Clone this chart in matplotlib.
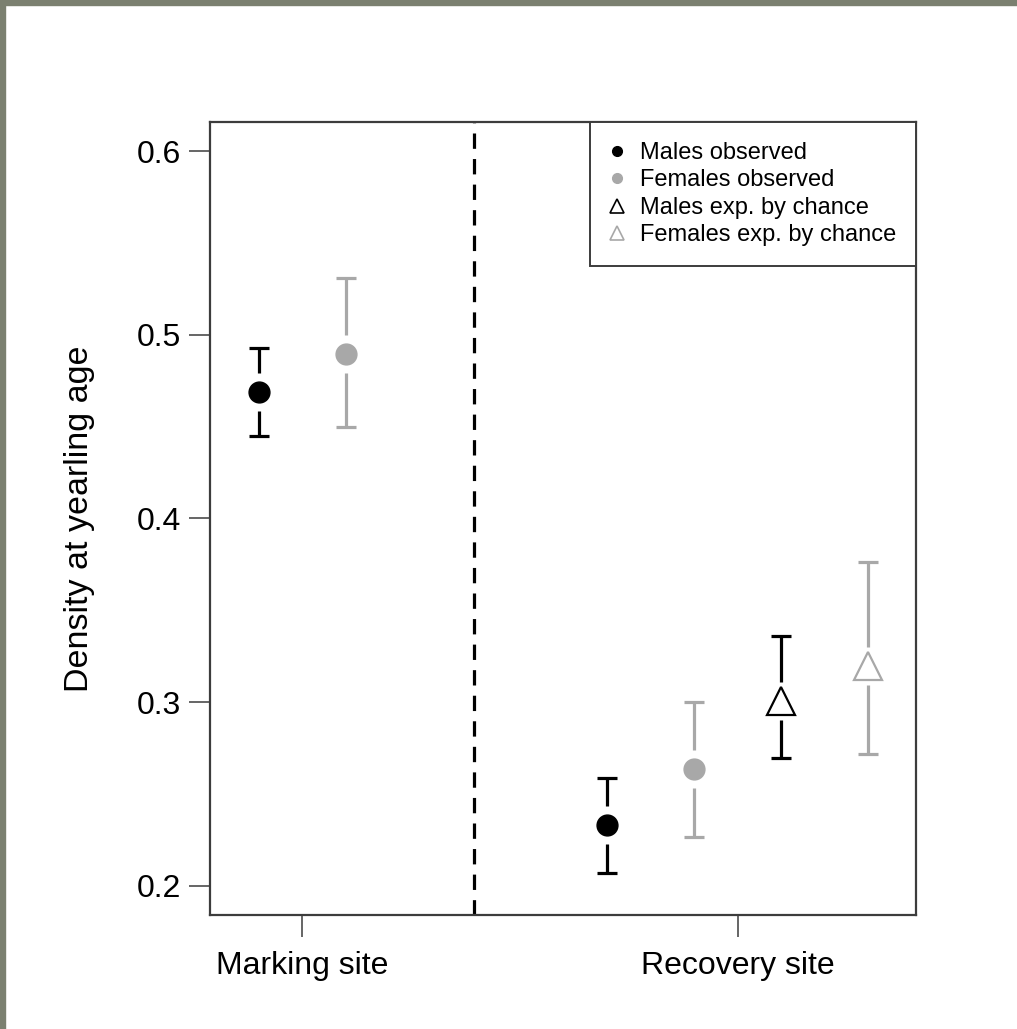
import matplotlib
matplotlib.use('Agg')
import matplotlib.pyplot as plt
from matplotlib.lines import Line2D
from matplotlib.patches import Rectangle

plt.rcParams['font.family'] = ['Liberation Sans', 'DejaVu Sans']

# sites on the x axis
sites = ['Marking site', 'Recovery site']
site_pos = [1, 2]

# observed densities (mean, lower, upper)
males_obs_x = [0.9, 1.7]
males_obs = [0.469, 0.233]
males_obs_lo = [0.445, 0.207]
males_obs_hi = [0.493, 0.259]

females_obs_x = [1.1, 1.9]
females_obs = [0.4895, 0.2637]
females_obs_lo = [0.450, 0.2265]
females_obs_hi = [0.531, 0.300]

# expected by chance (recovery site only)
males_exp_x = [2.1]
males_exp = [0.3006]
males_exp_lo = [0.2695]
males_exp_hi = [0.3363]

females_exp_x = [2.3]
females_exp = [0.3196]
females_exp_lo = [0.272]
females_exp_hi = [0.3765]

yticks = [0.2, 0.3, 0.4, 0.5, 0.6]

grey = '#a8a8a8'
spine_col = '#3c3c3c'

fig = plt.figure(figsize=(10.17, 10.29), dpi=100)
ax = fig.add_axes([210/1017, 114/1029, 706/1017, 793/1029])


def err_bar(x, y, lo, hi, col):
    gap = 0.0104
    cw = 0.023
    ax.vlines(x, y + gap, hi, color=col, lw=2.3)
    ax.vlines(x, lo, y - gap, color=col, lw=2.3)
    ax.hlines([lo, hi], x - cw, x + cw, color=col, lw=2.3)


for i in range(len(males_obs)):
    err_bar(males_obs_x[i], males_obs[i], males_obs_lo[i], males_obs_hi[i], 'black')
    err_bar(females_obs_x[i], females_obs[i], females_obs_lo[i], females_obs_hi[i], grey)
for i in range(len(males_exp)):
    err_bar(males_exp_x[i], males_exp[i], males_exp_lo[i], males_exp_hi[i], 'black')
    err_bar(females_exp_x[i], females_exp[i], females_exp_lo[i], females_exp_hi[i], grey)

ax.plot(males_obs_x, males_obs, 'o', color='black', ms=15, ls='none')
ax.plot(females_obs_x, females_obs, 'o', color=grey, ms=15, ls='none')
ax.plot(males_exp_x, males_exp, '^', mfc='white', mec='black', mew=1.6, ms=19.5, ls='none')
ax.plot(females_exp_x, females_exp, '^', mfc='white', mec=grey, mew=1.6, ms=19.5, ls='none')

ax.axvline(1.395, color='black', lw=2.3, dashes=(4.8, 3.2))

ax.set_xlim(0.788, 2.41)
ax.set_ylim(0.1842, 0.6158)
ax.set_xticks(site_pos)
ax.set_xticklabels(sites, fontsize=23)
ax.set_yticks(yticks)
ax.set_yticklabels([str(v) for v in yticks], fontsize=23)
ax.tick_params(axis='x', length=16, width=1.1, color=spine_col, pad=10)
ax.tick_params(axis='y', length=15, width=1.1, color=spine_col, pad=6)
ax.set_ylabel('Density at yearling age', fontsize=24.5, labelpad=30)
for s in ax.spines.values():
    s.set_color(spine_col)
    s.set_linewidth(1.6)

handles = [
    Line2D([], [], marker='o', color='black', ls='none', ms=7),
    Line2D([], [], marker='o', color=grey, ls='none', ms=7),
    Line2D([], [], marker='^', mfc='white', mec='black', mew=1.2, ls='none', ms=10),
    Line2D([], [], marker='^', mfc='white', mec=grey, mew=1.2, ls='none', ms=10),
]
labels = ['Males observed', 'Females observed', 'Males exp. by chance', 'Females exp. by chance']
leg = ax.legend(handles, labels, loc='upper right', borderaxespad=0, fontsize=17,
                frameon=True, fancybox=False, edgecolor=spine_col, framealpha=1,
                handlelength=0.6, handletextpad=0.64, labelspacing=0.23,
                borderpad=0.85)
leg.get_frame().set_linewidth(1.4)

# grey border strips along the top and left of the image
fig.patches.append(Rectangle((0, 1024/1029), 1, 5/1029, transform=fig.transFigure,
                             color='#7b8070', zorder=10))
fig.patches.append(Rectangle((0, 0), 5/1017, 1, transform=fig.transFigure,
                             color='#7b8070', zorder=10))

fig.savefig('out.png', dpi=100)
